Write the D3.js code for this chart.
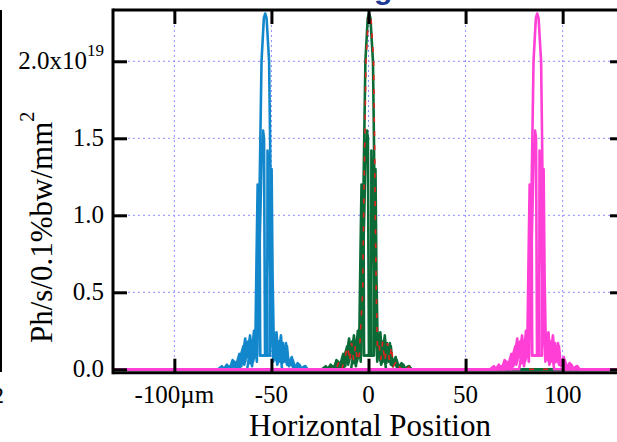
<!DOCTYPE html>
<html>
<head>
<meta charset="utf-8">
<script src="https://cdn.jsdelivr.net/npm/d3@7"></script>
<style>
  html, body { margin: 0; padding: 0; background: #fff; }
  svg { display: block; }
</style>
</head>
<body>
<svg id="chart" width="617" height="442"></svg>
<script>
// Horizontal flux profiles of three beam positions (Ph/s/0.1%bw/mm², units of 1e19)

const xTicks = [-100, -50, 0, 50, 100];
const xTickLabels = ["-100µm", "-50", "0", "50", "100"];
const yTicks = [0, 0.5, 1.0, 1.5, 2.0];
const yTickLabels = ["0.0", "0.5", "1.0", "1.5", "2.0x10"];
const yTickExponents = ["", "", "", "", "19"];

// peak positions (µm) of each source
const sourceNames = ["left", "centre", "right"];
const sourceCenters = [-53.5, 0.0, 86.6];
const sourceColors = ["#1387cc", "#0b6b37", "#ff3fd6"];
const dashedCenter = 0.3; // red dashed overlay on the centre source

// profile shapes: [offset from peak (µm), flux (1e19)]
const tallProfile = [
  [-20, 0], [-18.5, 0.02], [-17, 0], [-15.5, 0.05], [-14, 0.0], [-12, 0.1], [-11, 0.15],
  [-10, 0.05], [-9, 0.17], [-8, 0.06], [-7, 0.16], [-6, 0.05], [-5, 0.1], [-4.2, 0.3],
  [-3.3, 0.5], [-2.8, 1.0], [-2.2, 1.5], [-1.6, 2.0], [-0.4, 2.28], [0.3, 2.31], [1.0, 2.28],
  [2.3, 2.0], [2.8, 1.5], [3.2, 1.0], [3.7, 0.5], [4.3, 0.15], [5, 0.18], [6, 0.06], [7, 0.18],
  [8, 0.05], [9.5, 0.17], [10.5, 0.05], [11.5, 0.15], [12.5, 0.02], [14.5, 0.06], [16, 0],
  [18, 0.03], [19, 0], [21, 0.02], [22, 0]
];
const innerProfile = [
  [-16, 0], [-14, 0.04], [-13, 0], [-11.5, 0.12], [-10.5, 0.03], [-8.5, 0.18], [-7.5, 0.04],
  [-6, 0.15], [-5, 0.08], [-4, 0.2], [-3, 0.6], [-2.2, 1.0], [-1.5, 1.4], [-0.8, 1.55],
  [-0.3, 1.5], [0.2, 0.09], [1.3, 0.09], [1.5, 1.42], [2.0, 1.2], [2.6, 0.8], [3.2, 0.4],
  [3.8, 0.2], [4.8, 0.08], [5.8, 0.17], [6.8, 0.04], [8.2, 0.18], [9.2, 0.04], [10.5, 0.14],
  [11.5, 0.03], [13.5, 0.05], [15, 0]
];
const notchProfile = [
  [-9, 0], [-7.5, 0.12], [-6.5, 0.02], [-5, 0.17], [-4, 0.05], [-3.2, 0.5], [-2.6, 1.2],
  [-2.3, 0.09], [2.8, 0.09], [3.1, 1.1], [3.6, 0.5], [4.5, 0.05], [5.5, 0.15], [6.5, 0.03],
  [8, 0.12], [9, 0]
];
const edgeProfile = [
  [-24, 0], [-22, 0.02], [-21, 0], [-19.5, 0.03], [-18, 0], [-16.5, 0.06], [-15, 0.01],
  [-13, 0.1], [-12, 0.02], [-10, 0.2], [-9, 0.08], [-7.5, 0.22], [-6.5, 0.1], [-5.5, 0.25],
  [-4.8, 0.15], [-4.2, 0.7], [-3.6, 1.2], [-3.0, 0.8], [-2.4, 0.09], [2.6, 0.09], [3.0, 0.9],
  [3.6, 1.3], [4.1, 0.6], [4.6, 0.25], [5.3, 0.12], [6.1, 0.24], [7.1, 0.08], [8.4, 0.22],
  [9.4, 0.06], [11, 0.17], [12, 0.03], [14, 0.08], [15, 0], [17, 0.04], [18.5, 0],
  [20.5, 0.02], [22, 0]
];
const profiles = [edgeProfile, notchProfile, innerProfile, tallProfile];

const xDomain = [-131.6, 131.6];
const yDomain = [-0.022, 2.333];

const svg = d3.select("#chart");
const plot = { left: 113, top: 10, right: 624, bottom: 372.7 };

const x = d3.scaleLinear().domain(xDomain).range([plot.left, plot.right]);
const y = d3.scaleLinear().domain(yDomain).range([plot.bottom, plot.top]);

const serif = "'Liberation Serif', 'Times New Roman', serif";

// title, mostly above the top edge
const titleText = "Beam Steering Scans";
const title = svg.append("text")
  .attr("y", -1)
  .attr("font-family", "'Liberation Sans', Arial, sans-serif")
  .attr("font-weight", "bold")
  .attr("font-size", 30)
  .attr("fill", "#1f3a93")
  .text(titleText);
{
  const pre = title.node().getSubStringLength(0, titleText.indexOf("g"));
  title.attr("x", 374 - pre);
}

// neighbouring panel edge
svg.append("line")
  .attr("x1", 1).attr("x2", 1).attr("y1", 10).attr("y2", 372)
  .attr("stroke", "#000").attr("stroke-width", 2);
svg.append("text")
  .attr("x", 4).attr("y", 403)
  .attr("text-anchor", "end")
  .attr("font-family", serif).attr("font-size", 24)
  .text("2");

// grid
const grid = svg.append("g");
grid.selectAll("line.gx").data(xTicks).join("line")
  .attr("x1", d => x(d)).attr("x2", d => x(d))
  .attr("y1", plot.top).attr("y2", plot.bottom)
  .attr("stroke", "#8c8cff").attr("stroke-width", 1).attr("stroke-dasharray", "2,3");
grid.selectAll("line.gy").data(yTicks.filter(v => v > 0)).join("line")
  .attr("x1", plot.left).attr("x2", plot.right)
  .attr("y1", d => y(d)).attr("y2", d => y(d))
  .attr("stroke", "#8c8cff").attr("stroke-width", 1).attr("stroke-dasharray", "2,3");

// clip for curves
svg.append("clipPath").attr("id", "plotClip")
  .append("rect")
  .attr("x", plot.left).attr("y", plot.top)
  .attr("width", plot.right - plot.left).attr("height", plot.bottom - plot.top);

const line = d3.line().x(d => x(d[0])).y(d => y(d[1]));
const curves = svg.append("g").attr("clip-path", "url(#plotClip)");

function placed(profile, center) {
  return [[xDomain[0] - 5, 0]]
    .concat(profile.map(p => [center + p[0], p[1]]))
    .concat([[xDomain[1] + 5, 0]]);
}

sourceCenters.forEach((c, i) => {
  const g = curves.append("g").attr("class", sourceNames[i]);
  profiles.forEach(pr => {
    g.append("path")
      .attr("d", line(placed(pr, c)))
      .attr("fill", "none")
      .attr("stroke", sourceColors[i])
      .attr("stroke-width", 2.6)
      .attr("stroke-linejoin", "round");
  });
  if (sourceNames[i] === "centre") {
    g.append("path")
      .attr("d", line(placed(tallProfile, dashedCenter)))
      .attr("fill", "none")
      .attr("stroke", "#e3211c")
      .attr("stroke-width", 1.6)
      .attr("stroke-dasharray", "5,9");
  }
});

// frame
const frame = svg.append("g").attr("stroke", "#000").attr("stroke-width", 3);
frame.append("line").attr("x1", plot.left).attr("x2", plot.left).attr("y1", plot.top - 1.5).attr("y2", plot.bottom + 1.5);
frame.append("line").attr("x1", plot.left).attr("x2", plot.right).attr("y1", plot.top).attr("y2", plot.top);
frame.append("line").attr("x1", plot.left).attr("x2", plot.right).attr("y1", plot.bottom).attr("y2", plot.bottom);
frame.append("line").attr("x1", plot.right).attr("x2", plot.right).attr("y1", plot.top).attr("y2", plot.bottom);

// inward ticks on all four sides
function styleAxis(g) {
  g.select(".domain").remove();
  g.selectAll(".tick line").attr("stroke", "#000").attr("stroke-width", 3);
  g.selectAll(".tick text").remove();
}
svg.append("g").attr("transform", `translate(${plot.left},0)`)
  .call(d3.axisLeft(y).tickValues(yTicks).tickSize(-14).tickFormat("")).call(styleAxis);
svg.append("g").attr("transform", `translate(${plot.right},0)`)
  .call(d3.axisRight(y).tickValues(yTicks).tickSize(-14).tickFormat("")).call(styleAxis);
svg.append("g").attr("transform", `translate(0,${plot.bottom})`)
  .call(d3.axisBottom(x).tickValues(xTicks).tickSize(-14).tickFormat("")).call(styleAxis);
svg.append("g").attr("transform", `translate(0,${plot.top})`)
  .call(d3.axisTop(x).tickValues(xTicks).tickSize(-14).tickFormat("")).call(styleAxis);

// tick labels
const yLab = svg.append("g").attr("font-family", serif).attr("font-size", 25).attr("fill", "#000");
yTicks.forEach((v, i) => {
  const t = yLab.append("text")
    .attr("x", 104).attr("y", y(v) + 8)
    .attr("text-anchor", "end");
  t.append("tspan").text(yTickLabels[i]);
  if (yTickExponents[i]) {
    t.append("tspan").attr("font-size", 17).attr("dy", -13).text(yTickExponents[i]);
  }
});
svg.append("g").attr("font-family", serif).attr("font-size", 25).attr("fill", "#000")
  .selectAll("text").data(xTicks).join("text")
  .attr("x", d => x(d)).attr("y", 403)
  .attr("text-anchor", "middle")
  .text((d, i) => xTickLabels[i]);

// axis titles
svg.append("text")
  .attr("x", 370).attr("y", 436)
  .attr("text-anchor", "middle")
  .attr("font-family", serif).attr("font-size", 31)
  .text("Horizontal Position");

const yt = svg.append("text")
  .attr("transform", "translate(52,343) rotate(-90)")
  .attr("font-family", serif).attr("font-size", 31);
yt.append("tspan").text("Ph/s/0.1%bw/mm");
yt.append("tspan").attr("font-size", 20).attr("dy", -18).text("2");
</script>
</body>
</html>
